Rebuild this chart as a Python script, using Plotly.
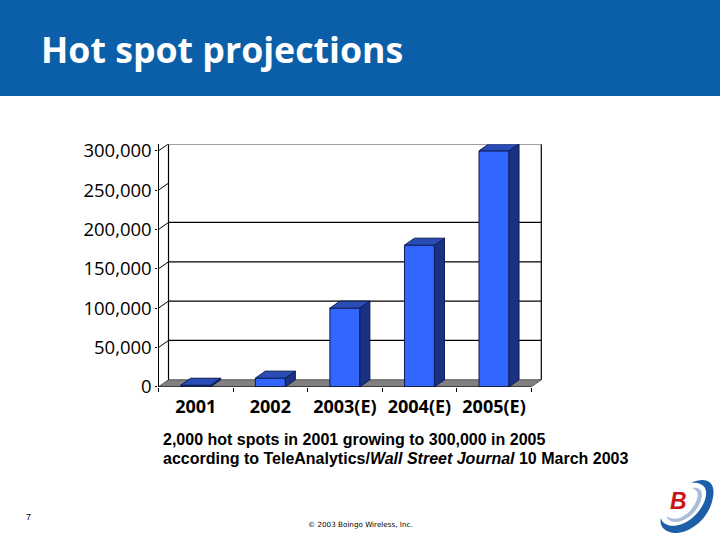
import plotly.graph_objects as go

categories = ["2001", "2002", "2003(E)", "2004(E)", "2005(E)"]
values = [2000, 11000, 100000, 180000, 300000]
y_ticks = [0, 50000, 100000, 150000, 200000, 250000, 300000]
wall_lines = [50000, 100000, 150000, 200000, 300000]
title = "Hot spot projections"
caption_1 = "2,000 hot spots in 2001 growing to 300,000 in 2005"
caption_2 = "according to TeleAnalytics/<i>Wall Street Journal</i> 10 March 2003"
page_number = "7"
copyright_text = "© 2003 Boingo Wireless, Inc."

W, H = 720, 540
L, R, T, B = 158.5, 543.0, 144.3, 386.8
cat_px = 74.56
val_px = 236.0 / 300000
DX = 10 / cat_px
DY = 7 / val_px
BAR_W = 30 / cat_px
FONT = "Open Sans"

xs = list(range(len(categories)))
x_lo = -0.5
x_hi = x_lo + (R - L) / cat_px
x_end = len(categories) - 0.5
y_hi = (B - T) / val_px


def px(x):
    return x / W


def py(y):
    return 1 - y / H


def path(cmds):
    out = []
    for c in cmds:
        if c == "Z":
            out.append("Z")
        else:
            nums = c[1]
            pts = " ".join(f"{px(nums[i]):.5f},{py(nums[i+1]):.5f}" for i in range(0, len(nums), 2))
            out.append(c[0] + pts)
    return " ".join(out)


fig = go.Figure()

# 3D side and top faces
for x, v in zip(xs, values):
    l, r = x - BAR_W / 2, x + BAR_W / 2
    fig.add_trace(go.Scatter(x=[r, r + DX, r + DX, r, r], y=[0, DY, v + DY, v, 0], mode="lines", fill="toself",
                             fillcolor="#1b3283", line=dict(color="#0c1a55", width=1), hoverinfo="skip", showlegend=False))
    fig.add_trace(go.Scatter(x=[l, r, r + DX, l + DX, l], y=[v, v, v + DY, v + DY, v], mode="lines", fill="toself",
                             fillcolor="#2a4db5", line=dict(color="#0c1a55", width=1), hoverinfo="skip", showlegend=False))
fig.add_trace(go.Bar(x=xs, y=values, width=BAR_W, marker=dict(color="#3366ff", line=dict(color="#0c1a55", width=1)),
                     hoverinfo="skip", showlegend=False))

shapes = []
shapes.append(dict(type="rect", xref="paper", yref="paper", x0=0, x1=1, y0=py(96), y1=1,
                   fillcolor="#0b5ea8", line=dict(width=0), layer="below"))
# floor
shapes.append(dict(type="path", xref="x", yref="y", layer="below", fillcolor="#808080", line=dict(color="#555555", width=1),
                   path=f"M{x_lo},0 L{x_end},0 L{x_end+DX},{DY} L{x_lo+DX},{DY} Z"))
# back wall frame
LINE = dict(color="black", width=1.2)
shapes.append(dict(type="line", xref="x", yref="y", layer="below", x0=x_lo + DX, x1=x_lo + DX, y0=DY, y1=y_hi, line=LINE))
shapes.append(dict(type="line", xref="x", yref="y", layer="below", x0=x_end + DX, x1=x_end + DX, y0=DY, y1=y_hi, line=LINE))
for v in wall_lines:
    shapes.append(dict(type="line", xref="x", yref="y", layer="below", x0=x_lo + DX, x1=x_end + DX, y0=v + DY, y1=v + DY, line=LINE))
for v in y_ticks:
    if v > 0:
        shapes.append(dict(type="line", xref="x", yref="y", layer="below", x0=x_lo, x1=x_lo + DX, y0=v, y1=v + DY,
                           line=dict(color="black", width=1)))

# logo
shapes.append(dict(type="path", xref="paper", yref="paper", fillcolor="#1c5fa8", line=dict(width=0),
                   path=path([("M", [691, 483]), ("C", [706, 476, 716, 482, 713, 497]), ("C", [710, 518, 690, 534, 674, 533]),
                              ("C", [664, 532, 659, 526, 661, 518]), ("C", [662, 525, 672, 528, 682, 524]),
                              ("C", [698, 518, 710, 498, 705, 488]), ("C", [703, 484, 697, 482, 691, 483]), "Z"])))
shapes.append(dict(type="path", xref="paper", yref="paper", fillcolor="#a9bdd8", line=dict(width=0),
                   path=path([("M", [692, 488]), ("C", [702, 486, 704, 494, 700, 503]), ("C", [695, 515, 682, 523, 674, 522]),
                              ("C", [669, 521, 667, 519, 667, 516]), ("C", [670, 519, 676, 520, 682, 517]),
                              ("C", [692, 512, 700, 498, 697, 492]), ("C", [696, 490, 694, 489, 692, 488]), "Z"])))

anns = [
    dict(text=f"<b>{title}</b>", x=px(39), y=py(49), xanchor="left", yanchor="middle",
         font=dict(family=FONT, size=35.7, color="white")),
    dict(text=f"<b>{caption_1}</b>", x=px(161), y=py(439), xanchor="left", yanchor="middle",
         font=dict(family="Liberation Sans", size=16, color="black")),
    dict(text=f"<b>{caption_2}</b>", x=px(161), y=py(458), xanchor="left", yanchor="middle",
         font=dict(family="Liberation Sans", size=16, color="black")),
    dict(text=page_number, x=px(28), y=py(517), xanchor="center", yanchor="middle",
         font=dict(family="Liberation Sans", size=9, color="black")),
    dict(text=copyright_text, x=px(360), y=py(524), xanchor="center", yanchor="middle",
         font=dict(family="DejaVu Sans", size=7.2, color="black")),
    dict(text="<b><i>B</i></b>", x=px(678), y=py(501), xanchor="center", yanchor="middle",
         font=dict(family="Liberation Sans", size=23, color="#cc1418")),
]
for a in anns:
    a.update(xref="paper", yref="paper", showarrow=False, xshift=0)

fig.update_layout(
    width=W, height=H, margin=dict(l=0, r=0, t=0, b=0), paper_bgcolor="white", plot_bgcolor="white",
    barmode="overlay", showlegend=False, shapes=shapes, annotations=anns,
    xaxis=dict(automargin=False, domain=[L / W, R / W], range=[x_lo, x_hi], tickmode="array", tickvals=xs, ticktext=[f"<b>{c}</b>" for c in categories],
               ticks="outside", ticklen=4, tickcolor="rgba(0,0,0,0)", showgrid=False, zeroline=False,
               showline=False, tickfont=dict(family=FONT, size=18, color="black"),
               minor=dict(ticks="outside", ticklen=4, tickcolor="black", tickmode="array",
                          tickvals=[i - 0.5 for i in range(len(categories) + 1)], showgrid=False)),
    yaxis=dict(automargin=False, domain=[1 - B / H, 1 - T / H], range=[0, y_hi], tickmode="array", tickvals=y_ticks,
               ticktext=[f"{v:,}" for v in y_ticks],
               ticks="outside", ticklen=2, tickcolor="black", showgrid=False, zeroline=False,
               showline=True, linecolor="black", linewidth=1.2,
               tickfont=dict(family=FONT, size=18.5, color="black")),
)
fig.add_shape(type="line", xref="x", yref="y", layer="above", x0=x_lo, x1=x_end, y0=0, y1=0, line=dict(color="black", width=1))
fig.write_html("out.html", config=dict(displayModeBar=False),
               post_script="document.body.style.margin='0';document.documentElement.style.overflow='hidden';")
